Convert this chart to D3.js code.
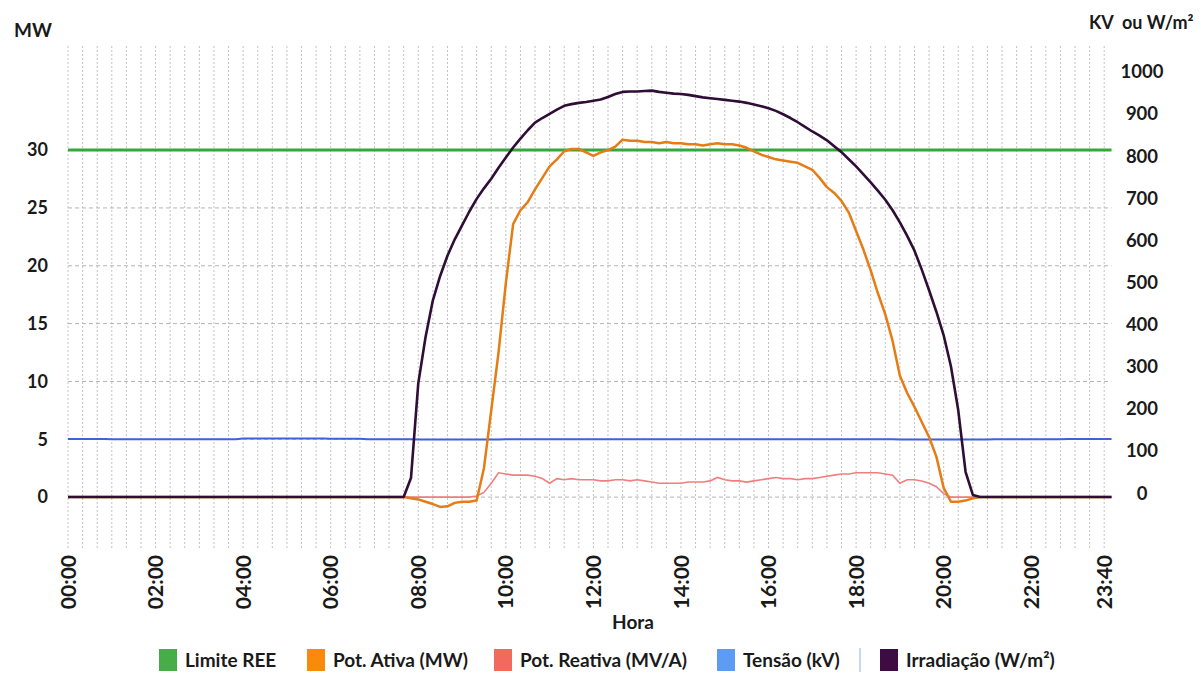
<!DOCTYPE html>
<html>
<head>
<meta charset="utf-8">
<script src="https://cdn.jsdelivr.net/npm/d3@7"></script>
<style>
  html, body { margin: 0; padding: 0; background: #ffffff; }
  svg text { font-family: Lato, "Open Sans", sans-serif; font-weight: 700; fill: #1a1a1a; }
</style>
</head>
<body>
<svg id="chart" width="1201" height="675"></svg>
<script>
// ---------- DATA (10-minute samples, 00:00 .. 23:50) ----------
const categories = d3.range(144).map(k => String(Math.floor(k / 6)).padStart(2, "0") + ":" + String((k % 6) * 10).padStart(2, "0"));

const tickIndex  = [0, 12, 24, 36, 48, 60, 72, 84, 96, 108, 120, 132, 142];
const tickLabels = ["00:00","02:00","04:00","06:00","08:00","10:00","12:00","14:00","16:00","18:00","20:00","22:00","23:40"];

const leftTicks  = [0, 5, 10, 15, 20, 25, 30];
const rightTicks = [0, 100, 200, 300, 400, 500, 600, 700, 800, 900, 1000];

const limiteREE = 30; // MW

// Pot. Ativa (MW)
const potAtiva = [
  0,0,0,0,0,0,0,0,0,0,0,0,
  0,0,0,0,0,0,0,0,0,0,0,0,
  0,0,0,0,0,0,0,0,0,0,0,0,
  0,0,0,0,0,0,0,0,0,0,0,-0.1,
  -0.2,-0.4,-0.6,-0.85,-0.8,-0.5,-0.4,-0.4,-0.3,2.5,7.5,12.5,
  18.5,23.6,24.8,25.5,26.6,27.6,28.6,29.2,29.9,30.1,30.1,29.8,
  29.5,29.8,30.0,30.3,30.9,30.8,30.8,30.7,30.7,30.6,30.7,30.6,
  30.6,30.5,30.5,30.4,30.5,30.6,30.5,30.5,30.4,30.2,29.9,29.6,
  29.4,29.2,29.1,29.0,28.9,28.6,28.3,27.6,26.8,26.3,25.6,24.6,
  23.0,21.4,19.6,17.6,15.8,13.5,10.5,9.0,7.8,6.5,5.2,3.5,
  0.8,-0.4,-0.4,-0.3,-0.1,0,0,0,0,0,0,0,
  0,0,0,0,0,0,0,0,0,0,0,0
];

// Pot. Reativa (MV/A)
const potReativa = [
  0,0,0,0,0,0,0,0,0,0,0,0,
  0,0,0,0,0,0,0,0,0,0,0,0,
  0,0,0,0,0,0,0,0,0,0,0,0,
  0,0,0,0,0,0,0,0,0,0,0,0,
  0,0,0,0,0,0,0,0,0.1,0.4,1.2,2.1,
  2.0,1.9,1.9,1.9,1.8,1.6,1.2,1.6,1.5,1.6,1.5,1.5,
  1.5,1.4,1.4,1.5,1.5,1.4,1.5,1.4,1.3,1.2,1.2,1.2,
  1.2,1.3,1.3,1.3,1.4,1.7,1.5,1.4,1.4,1.3,1.4,1.5,
  1.6,1.7,1.6,1.6,1.5,1.6,1.6,1.7,1.8,1.9,2.0,2.0,
  2.1,2.1,2.1,2.1,2.0,1.9,1.2,1.5,1.5,1.4,1.2,0.9,
  0.3,0,0,0,0,0,0,0,0,0,0,0,
  0,0,0,0,0,0,0,0,0,0,0,0
];

// Tensão (kV) - right axis
const tensao = [
  138,138,138,138,138,138,137,137,137,137,137,137,
  137,137,137,137,137,137,137.5,137.5,137.5,137.5,137.5,137.5,
  139,139,139,139,139,139,139,139,139,139,139,139,
  138.5,138.5,138.5,138.5,138.5,137.5,137.5,137.5,137.5,137.5,137.5,137.5,
  136.5,136.5,136.5,136.5,136.5,136.5,136.5,136.5,136.5,136.5,136.5,136.5,
  137.5,137.5,137.5,137.5,137.5,137.5,137.5,137.5,137.5,137.5,137.5,137.5,
  137.5,137.5,137.5,137.5,137.5,137.5,137.5,137.5,137.5,137.5,137.5,137.5,
  137.5,137.5,137.5,137.5,137.5,137.5,137.5,137.5,137.5,137.5,137.5,137.5,
  137.5,137.5,137.5,137.5,137.5,137.3,137.3,137.3,137.3,137.3,137.3,137.3,
  137.3,137.3,137.3,137.3,137.3,137.3,136.5,136.5,136.5,136.5,136.5,136.5,
  136.5,136.5,136.5,136.5,136.5,136.5,136.5,137.5,137.5,137.5,137.5,137.5,
  137.5,137.5,137.5,137.5,137.5,138,138,138,138,138,138,138
];

// Irradiação (W/m²) - right axis
const irradiacao = [
  0,0,0,0,0,0,0,0,0,0,0,0,
  0,0,0,0,0,0,0,0,0,0,0,0,
  0,0,0,0,0,0,0,0,0,0,0,0,
  0,0,0,0,0,0,0,0,0,0,0,45,
  270,380,467,525,573,612,645,678,708,733,756,782,
  806,830,851,871,889,900,910,920,929,933,936,938,
  941,944,950,957,962,963,963,964,965,962,960,958,
  957,955,952,949,947,945,943,941,939,936,932,928,
  923,917,909,900,890,879,868,858,847,833,819,802,
  785,766,747,727,706,681,652,620,585,540,491,440,
  384,310,206,60,5,0,0,0,0,0,0,0,
  0,0,0,0,0,0,0,0,0,0,0,0
];

// ---------- CHART ----------
const svg = d3.select("#chart");
const plotTop = 46, plotBottom = 548, plotLeft = 68, plotRight = 1111.5;

const x  = d3.scaleLinear().domain([0, categories.length - 1]).range([plotLeft, plotRight]);
const yL = d3.scaleLinear().domain([-4.4, 39]).range([plotBottom, plotTop]);
const yR = d3.scaleLinear().domain([-121, 1071]).range([plotBottom, plotTop]);

// grid
const grid = svg.append("g");
grid.selectAll("line.v").data(d3.range(0, categories.length, 2)).join("line")
  .attr("x1", d => x(d)).attr("x2", d => x(d))
  .attr("y1", plotTop).attr("y2", plotBottom)
  .attr("stroke", "#c2c2c2").attr("stroke-width", 1).attr("stroke-dasharray", "2,2");
grid.selectAll("line.h").data(leftTicks).join("line")
  .attr("x1", plotLeft).attr("x2", plotRight)
  .attr("y1", d => yL(d)).attr("y2", d => yL(d))
  .attr("stroke", "#b4b4b4").attr("stroke-width", 1).attr("stroke-dasharray", "4,3");

// left axis labels
svg.append("g").selectAll("text").data(leftTicks).join("text")
  .attr("x", 48).attr("y", d => yL(d)).attr("dy", "0.35em")
  .attr("text-anchor", "end").attr("font-size", 18).text(d => d);

// right axis labels
svg.append("g").selectAll("text").data(rightTicks).join("text")
  .attr("x", 1142).attr("y", d => yR(d) - 4).attr("dy", "0.35em")
  .attr("text-anchor", "middle").attr("font-size", 18.5).text(d => d);

// x axis labels
svg.append("g").selectAll("text").data(tickIndex).join("text")
  .attr("transform", d => `translate(${x(d)},555) rotate(-90)`)
  .attr("dy", "0.36em").attr("text-anchor", "end").attr("font-size", 21)
  .text((d, i) => tickLabels[i]);

// titles
svg.append("text").attr("x", 14).attr("y", 37).attr("font-size", 19).text("MW");
svg.append("text").attr("x", 1089).attr("y", 29).attr("font-size", 18).attr("xml:space", "preserve").text("KV  ou W/m²");
svg.append("text").attr("x", 633).attr("y", 629).attr("text-anchor", "middle").attr("font-size", 19).text("Hora");

// series
const idx = d3.range(categories.length);
const lineL = arr => d3.line().x(i => x(i)).y(i => yL(arr[i]))(idx);
const lineR = arr => d3.line().x(i => x(i)).y(i => yR(arr[i]))(idx);

svg.append("line")
  .attr("x1", x(0)).attr("x2", x(categories.length - 1))
  .attr("y1", yL(limiteREE)).attr("y2", yL(limiteREE))
  .attr("stroke", "#35a83c").attr("stroke-width", 3);

svg.append("path").attr("d", lineR(tensao)).attr("fill", "none")
  .attr("stroke", "#3d62d9").attr("stroke-width", 2);
svg.append("path").attr("d", lineL(potReativa)).attr("fill", "none")
  .attr("stroke", "#ee7f80").attr("stroke-width", 1.6);
svg.append("path").attr("d", lineL(potAtiva)).attr("fill", "none")
  .attr("stroke", "#e57c14").attr("stroke-width", 2.5).attr("stroke-linejoin", "round");
svg.append("path").attr("d", lineR(irradiacao)).attr("fill", "none")
  .attr("stroke", "#2f0d36").attr("stroke-width", 2.6).attr("stroke-linejoin", "round");

// legend
const legendNames  = ["Limite REE", "Pot. Ativa (MW)", "Pot. Reativa (MV/A)", "Tensão (kV)", "Irradiação (W/m²)"];
const legendColors = ["#46ad48", "#fb8a0c", "#f26a5c", "#5c9cf5", "#3e0b43"];
const legendX = [159, 307, 494, 717, 880];
const lg = svg.append("g");
legendNames.forEach((name, i) => {
  lg.append("rect").attr("x", legendX[i]).attr("y", 649).attr("width", 18).attr("height", 22).attr("fill", legendColors[i]);
  lg.append("text").attr("x", legendX[i] + 26).attr("y", 667).attr("font-size", 19).text(name);
});
lg.append("line").attr("x1", 860).attr("x2", 860).attr("y1", 648).attr("y2", 672)
  .attr("stroke", "#b5cdf0").attr("stroke-width", 1.5);
</script>
</body>
</html>
